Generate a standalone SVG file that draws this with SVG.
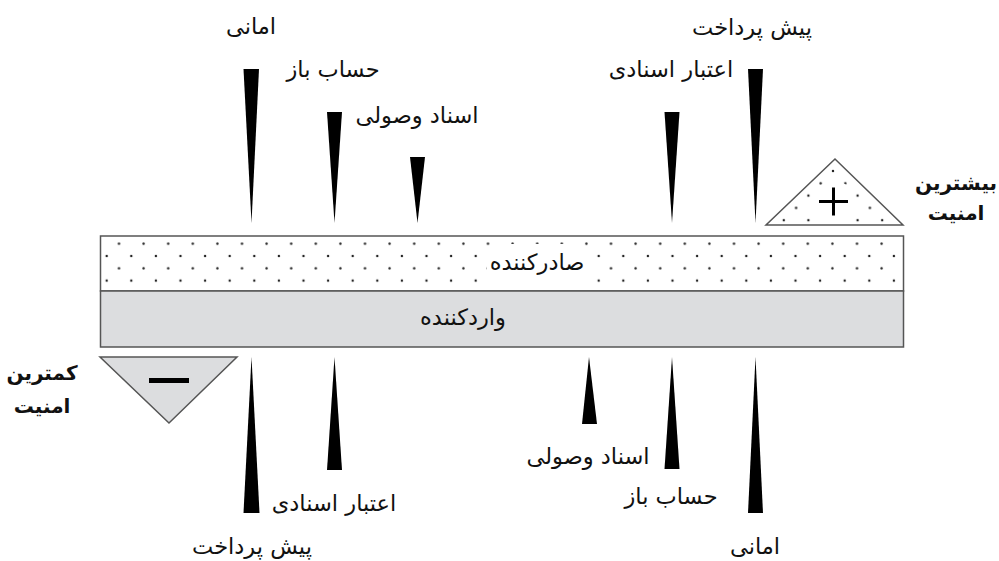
<svg xmlns="http://www.w3.org/2000/svg" width="999" height="561" viewBox="0 0 999 561">
  <style>
    .lbl { font-family: "DejaVu Sans", "Noto Sans", sans-serif; font-size: 22.5px; fill: #111; text-anchor: middle; }
    .big { font-family: "DejaVu Sans", "Noto Sans", sans-serif; font-size: 20px; font-weight: bold; fill: #111; text-anchor: middle; }
    .wedge { fill: #000; }
    .frame { stroke: #555; stroke-width: 1.5; }
  </style>
  <defs>
    <pattern id="dots" x="106.7" y="256" width="24.6" height="24.6" patternUnits="userSpaceOnUse">
      <circle cx="0" cy="0" r="1.2" fill="#222"/>
      <circle cx="24.6" cy="0" r="1.2" fill="#222"/>
      <circle cx="0" cy="24.6" r="1.2" fill="#222"/>
      <circle cx="24.6" cy="24.6" r="1.2" fill="#222"/>
      <circle cx="12.3" cy="12.3" r="1.2" fill="#222"/>
    </pattern>
    <pattern id="dotsTri" x="833" y="171" width="24.6" height="24.6" patternUnits="userSpaceOnUse">
      <circle cx="0" cy="0" r="1.2" fill="#222"/>
      <circle cx="24.6" cy="0" r="1.2" fill="#222"/>
      <circle cx="0" cy="24.6" r="1.2" fill="#222"/>
      <circle cx="24.6" cy="24.6" r="1.2" fill="#222"/>
      <circle cx="12.3" cy="12.3" r="1.2" fill="#222"/>
    </pattern>
  </defs>

  <!-- exporter / importer bar -->
  <g id="exporter">
    <rect x="100.5" y="236" width="803" height="55" fill="#fff"/>
    <rect x="100.5" y="236" width="803" height="55" fill="url(#dots)" class="frame"/>
    <rect x="487" y="244" width="101" height="39" rx="10" fill="#fff"/>
    <text class="lbl" x="537" y="270">صادرکننده</text>
  </g>
  <g id="importer">
    <rect x="100.5" y="291" width="803" height="56" fill="#dcdddf" class="frame"/>
    <text class="lbl" x="463" y="325">واردکننده</text>
  </g>

  <!-- highest security marker -->
  <g id="most-secure">
    <polygon points="835,159 766,225 903,225" fill="#fff"/>
    <polygon points="835,159 766,225 903,225" fill="url(#dotsTri)" class="frame"/>
    <circle cx="834" cy="202" r="21" fill="#fff"/>
    <path d="M819,201.5 H848 M833.5,187.5 V215.5" stroke="#000" stroke-width="3"/>
    <text class="big" x="956" y="190">بیشترین</text>
    <text class="big" x="956" y="220">امنیت</text>
  </g>

  <!-- lowest security marker -->
  <g id="least-secure">
    <polygon points="100,357 237,357 169,423" fill="#dcdddf" class="frame"/>
    <rect x="149" y="378" width="40" height="5" fill="#000"/>
    <text class="big" x="42" y="380">کمترین</text>
    <text class="big" x="42" y="413">امنیت</text>
  </g>

  <!-- exporter side: wedges pointing down to the bar -->
  <g id="exp-consignment">
    <polygon class="wedge" points="243.5,69 259,69 251.5,223"/>
    <text class="lbl" x="251" y="34">امانی</text>
  </g>
  <g id="exp-open-account">
    <polygon class="wedge" points="327,112 342,112 334.5,223"/>
    <text class="lbl" x="333" y="77">حساب باز</text>
  </g>
  <g id="exp-collection">
    <polygon class="wedge" points="410,157 425,157 417.5,223"/>
    <text class="lbl" x="417" y="123">اسناد وصولی</text>
  </g>
  <g id="exp-letter-of-credit">
    <polygon class="wedge" points="664.5,112 679.5,112 672,223"/>
    <text class="lbl" x="671" y="77">اعتبار اسنادی</text>
  </g>
  <g id="exp-prepayment">
    <polygon class="wedge" points="748,69 763,69 755.5,223"/>
    <text class="lbl" x="752" y="35">پیش پرداخت</text>
  </g>

  <!-- importer side: wedges pointing up to the bar -->
  <g id="imp-prepayment">
    <polygon class="wedge" points="251.5,357 243.5,513 259.5,513"/>
    <text class="lbl" x="252" y="554">پیش پرداخت</text>
  </g>
  <g id="imp-letter-of-credit">
    <polygon class="wedge" points="334.5,357 327,470 342,470"/>
    <text class="lbl" x="334" y="511">اعتبار اسنادی</text>
  </g>
  <g id="imp-collection">
    <polygon class="wedge" points="589,357 582,424 597,424"/>
    <text class="lbl" x="588" y="464">اسناد وصولی</text>
  </g>
  <g id="imp-open-account">
    <polygon class="wedge" points="672,357 664.5,469 679.5,469"/>
    <text class="lbl" x="671" y="504">حساب باز</text>
  </g>
  <g id="imp-consignment">
    <polygon class="wedge" points="755.5,357 748,513 763,513"/>
    <text class="lbl" x="755" y="554">امانی</text>
  </g>
</svg>
